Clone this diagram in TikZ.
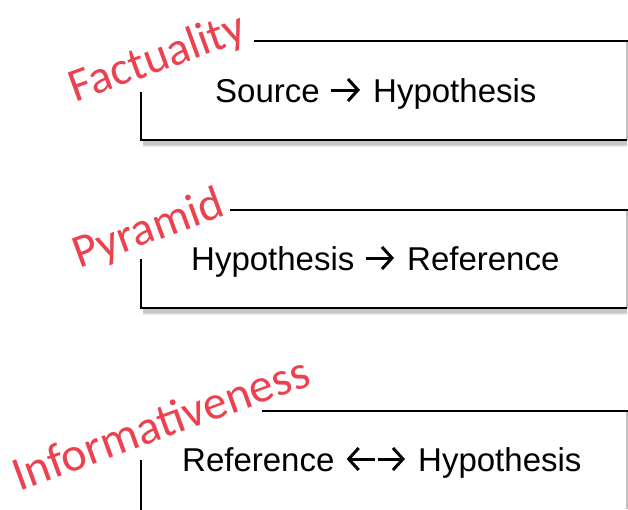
\documentclass[tikz,border=0pt]{standalone}
\usepackage{fontspec}
\usetikzlibrary{arrows.meta,calc}
\setmainfont{Liberation Sans}
\newfontfamily\labelfont{Carlito}
\definecolor{labelred}{RGB}{236,66,80}
\begin{document}
\begin{tikzpicture}[x=1pt,y=-1pt,
  frame/.style={draw=black,line width=2pt},
  shadowline/.style={line width=#1,draw=black,opacity=0.08},
  rightedge/.style={draw=gray!50,line width=1.2pt},
  term/.style={font=\fontsize{33}{40}\selectfont,inner sep=0pt,anchor=base west,
    text height=26pt,text depth=2pt},
  relarrow/.style={line width=3pt,-{Straight Barb[length=10pt,width=22pt,line width=3pt]},
    line cap=butt},
  metric/.style={font=\labelfont\fontsize{47}{50}\selectfont,text=labelred,rotate=20,
    inner sep=0pt,anchor=base}]
\useasboundingbox (0,0) rectangle (628,509);
\fill[white] (0,0) rectangle (628,509);

% --- box 1: factuality ---
\coordinate (t1) at (254,41);
\coordinate (l1) at (141,92);
\coordinate (b1) at (141,140);
\coordinate (r1) at (627,140);
\foreach \w in {8,6,4} \draw[shadowline=\w pt] (143,143) -- (627,143);
\draw[rightedge] (627,41) -- (r1);
\draw[frame] (t1) -- (628,41);
\draw[frame] (l1) -- (b1) -- (r1);
\node[term] (src1) at (215,102) {Source};
\node[term] (hyp1) at (373,102) {Hypothesis};
\draw[relarrow,shorten <=11pt,shorten >=13pt] (src1.east) -- (hyp1.west);
\node[metric] (lab1) at (162,71) {Factuality};

% --- box 2: pyramid ---
\coordinate (t2) at (230,210);
\coordinate (l2) at (141,259);
\coordinate (b2) at (141,308);
\coordinate (r2) at (627,308);
\foreach \w in {8,6,4} \draw[shadowline=\w pt] (143,311) -- (627,311);
\draw[rightedge] (627,210) -- (r2);
\draw[frame] (t2) -- (628,210);
\draw[frame] (l2) -- (b2) -- (r2);
\node[term] (hyp2) at (191,270) {Hypothesis};
\node[term] (ref2) at (407,270) {Reference};
\draw[relarrow,shorten <=11pt,shorten >=13pt] (hyp2.east) -- (ref2.west);
\node[metric] (lab2) at (153,242) {Pyramid};

% --- box 3: informativeness ---
\coordinate (t3) at (262,411);
\coordinate (l3) at (141,460);
\coordinate (b3) at (141,512);
\draw[rightedge] (627,411) -- (627,509);
\draw[frame] (t3) -- (628,411);
\draw[frame] (l3) -- (b3);
\node[term] (ref3) at (182,471) {Reference};
\node[term] (hyp3) at (418,471) {Hypothesis};
\coordinate (mid3) at ($(ref3.east)!0.5!(hyp3.west)$);
\draw[relarrow,shorten <=1.5pt,shorten >=12pt] (mid3) -- (ref3.east);
\draw[relarrow,shorten <=1.5pt,shorten >=13pt] (mid3) -- (hyp3.west);
\node[metric,font=\labelfont\fontsize{48}{50}\selectfont] (lab3) at (166,438) {Informativeness};
\end{tikzpicture}
\end{document}
